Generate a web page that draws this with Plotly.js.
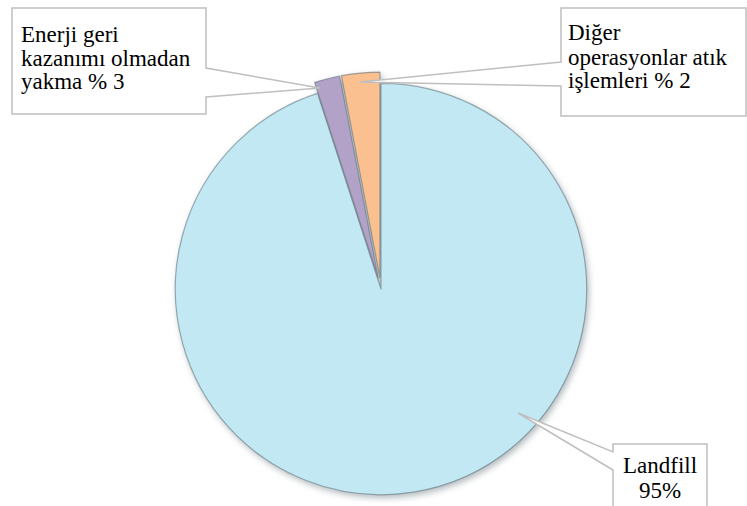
<!DOCTYPE html>
<html><head><meta charset="utf-8">
<script src="https://cdn.plot.ly/plotly-3.0.1.min.js"></script>
<style>
html,body{margin:0;padding:0;background:#fff}
#chart{width:747px;height:506px}
#chart .pielayer{filter:drop-shadow(2px 3px 3px rgba(40,60,70,0.35))}
</style>
</head><body><div id="chart"></div>
<script>
// Data (slice order: clockwise from 12 o'clock)
const categories = ["Landfill", "Enerji geri kazanımı olmadan yakma", "Diğer operasyonlar atık işlemleri"];
const values = [95, 2, 3];
const colors = ["#C2E9F3", "#B3A2C7", "#FAC090"];
const pulls = [0, 0.055, 0.055];
const labelLines = [
  ["Landfill", "95%"],
  ["Enerji geri", "kazanımı olmadan", "yakma % 3"],
  ["Diğer", "operasyonlar atık", "işlemleri % 2"]
];

const W = 747, H = 506;
const px = x => x / W, py = y => 1 - y / H;
const P = (x, y) => px(x).toFixed(5) + "," + py(y).toFixed(5);

// callout geometry (layout styling, pixels)
const callouts = [
  {box: [613, 444, 707, 530], side: "left", a: 452, b: 470, tip: [518, 413], tx: 660, lines: [472, 497], align: "center"},
  {box: [12, 8, 206, 114], side: "right", a: 68, b: 97, tip: [320, 88], tx: 19, lines: [41, 65, 89], align: "left"},
  {box: [561, 8, 746, 116], side: "left", a: 62, b: 86, tip: [360, 82], tx: 566, lines: [40, 64, 88], align: "left"}
];

function calloutPath(c) {
  const [x0, y0, x1, y1] = c.box;
  if (c.side === "right") {
    return "M" + P(x0, y0) + " L" + P(x1, y0) + " L" + P(x1, c.a) + " L" + P(c.tip[0], c.tip[1]) +
        " L" + P(x1, c.b) + " L" + P(x1, y1) + " L" + P(x0, y1) + " Z";
  }
  return "M" + P(x0, y0) + " L" + P(x1, y0) + " L" + P(x1, y1) + " L" + P(x0, y1) + " L" + P(x0, c.b) +
      " L" + P(c.tip[0], c.tip[1]) + " L" + P(x0, c.a) + " Z";
}

const shapes = callouts.map(c => ({
  type: "path", xref: "paper", yref: "paper", path: calloutPath(c),
  fillcolor: "#ffffff", line: {color: "#bfbfbf", width: 1.5}, layer: "above"
}));

const fontSize = 23;
const annotations = [];
callouts.forEach((c, i) => {
  labelLines[i].forEach((t, j) => {
    annotations.push({
      xref: "paper", yref: "paper", showarrow: false,
      x: px(c.tx),
      xanchor: c.align === "left" ? "left" : "center",
      y: py(c.lines[j] - 7), yanchor: "middle",
      text: t, align: c.align,
      font: {family: "Liberation Serif", size: fontSize, color: "#000"}
    });
  });
});

const trace = {
  type: "pie",
  labels: categories,
  values: values,
  sort: false,
  direction: "clockwise",
  rotation: 0,
  pull: pulls,
  textinfo: "none",
  hoverinfo: "label+percent",
  marker: {colors: colors, line: {color: "rgba(90,110,120,0.55)", width: 1.2}},
  domain: {x: [15 / W, 1], y: [0, 434 / H]},
  showlegend: false
};

Plotly.newPlot("chart", [trace], {
  width: W, height: H,
  margin: {l: 0, r: 0, t: 0, b: 0},
  paper_bgcolor: "#ffffff",
  font: {family: "Liberation Serif"},
  showlegend: false,
  shapes: shapes,
  annotations: annotations
}, {staticPlot: true});
</script>
</body></html>
